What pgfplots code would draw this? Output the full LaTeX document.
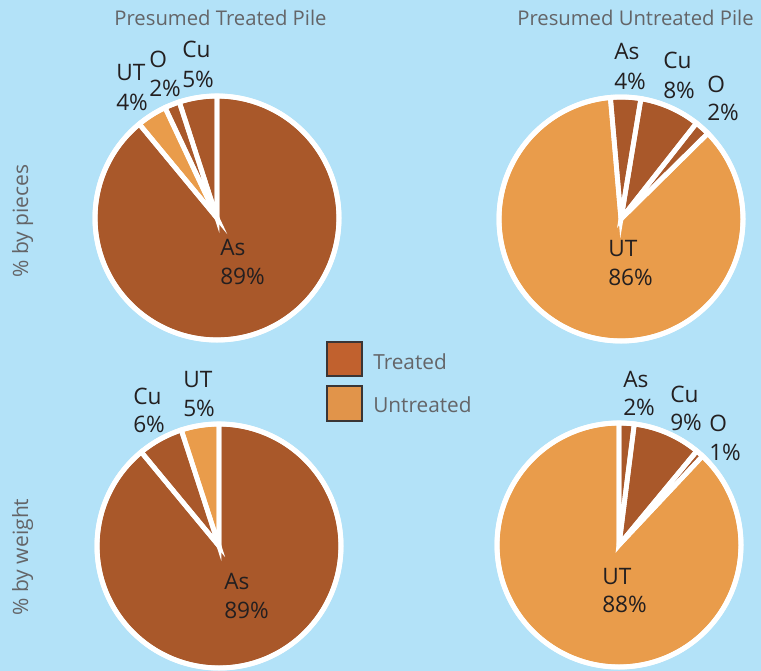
\documentclass[border=0pt]{standalone}
\usepackage{pgfplots}
\pgfplotsset{compat=1.18}
\usepackage{fontspec}
\setmainfont{Open Sans}

\definecolor{bgblue}{HTML}{B3E2F8}
\definecolor{tbrown}{HTML}{A9582A}
\definecolor{uorange}{HTML}{E99C4B}
\definecolor{legbrown}{HTML}{C1612E}
\definecolor{legorange}{HTML}{E1944A}
\definecolor{ink}{HTML}{231F20}
\definecolor{titlegray}{HTML}{646568}

% one wedge: cx, cy, start angle, direction (+1 ccw, -1 cw), from %, to %, path options
\newcommand\slice[7]{%
  \path[#7] (axis cs:#1,#2) -- ++({#3+#4*3.6*#5}:91.5pt)
    arc[start angle={#3+#4*3.6*#5}, end angle={#3+#4*3.6*#6}, radius=91.5pt] -- cycle;}
\newcommand\ring[2]{%
  \draw[white, line width=3.75pt] (axis cs:#1,#2) circle[radius=91.5pt];}
% two-line label: left x, first baseline, second baseline, line 1, line 2
\newcommand\lab[5]{%
  \node[anchor=base west, inner sep=0pt, font=\fontsize{17}{20}\selectfont, text=ink] at (axis cs:#1,#2) {#4};
  \node[anchor=base west, inner sep=0pt, font=\fontsize{17}{20}\selectfont, text=ink] at (axis cs:#1,#3) {#5};}

\tikzset{sep/.style={draw=white, line width=3.6pt}}

\begin{document}
\begin{tikzpicture}
\begin{axis}[hide axis, scale only axis, x=0.75pt, y=0.75pt,
  xmin=0, xmax=761, ymin=0, ymax=671, y dir=reverse, clip=true]
\fill[bgblue] (axis cs:0,0) rectangle (axis cs:761,671);

% Presumed treated pile, % by pieces: Cu 5, O 2, UT 4, As 89
\slice{217}{218}{90}{1}{0}{5}{fill=tbrown}
\slice{217}{218}{90}{1}{5}{7}{fill=tbrown}
\slice{217}{218}{90}{1}{7}{11}{fill=uorange}
\slice{217}{218}{90}{1}{11}{100}{fill=tbrown}
\slice{217}{218}{90}{1}{0}{5}{sep}
\slice{217}{218}{90}{1}{5}{7}{sep}
\slice{217}{218}{90}{1}{7}{11}{sep}
\slice{217}{218}{90}{1}{11}{100}{sep}
\ring{217}{218}

% Presumed untreated pile, % by pieces: As 4, Cu 8, O 2, UT 86
\slice{621}{219}{95}{-1}{0}{4}{fill=tbrown}
\slice{621}{219}{95}{-1}{4}{12}{fill=tbrown}
\slice{621}{219}{95}{-1}{12}{14}{fill=tbrown}
\slice{621}{219}{95}{-1}{14}{100}{fill=uorange}
\slice{621}{219}{95}{-1}{0}{4}{sep}
\slice{621}{219}{95}{-1}{4}{12}{sep}
\slice{621}{219}{95}{-1}{12}{14}{sep}
\slice{621}{219}{95}{-1}{14}{100}{sep}
\ring{621}{219}

% Presumed treated pile, % by weight: UT 5, Cu 6, As 89
\slice{219}{546}{90}{1}{0}{5}{fill=uorange}
\slice{219}{546}{90}{1}{5}{11}{fill=tbrown}
\slice{219}{546}{90}{1}{11}{100}{fill=tbrown}
\slice{219}{546}{90}{1}{0}{5}{sep}
\slice{219}{546}{90}{1}{5}{11}{sep}
\slice{219}{546}{90}{1}{11}{100}{sep}
\ring{219}{546}

% Presumed untreated pile, % by weight: As 2, Cu 9, O 1, UT 88
\slice{619}{545}{90}{-1}{0}{2}{fill=tbrown}
\slice{619}{545}{90}{-1}{2}{11}{fill=tbrown}
\slice{619}{545}{90}{-1}{11}{12}{fill=tbrown}
\slice{619}{545}{90}{-1}{12}{100}{fill=uorange}
\slice{619}{545}{90}{-1}{0}{2}{sep}
\slice{619}{545}{90}{-1}{2}{11}{sep}
\slice{619}{545}{90}{-1}{11}{12}{sep}
\slice{619}{545}{90}{-1}{12}{100}{sep}
\ring{619}{545}

% slice labels
\lab{182}{57}{87}{Cu}{5\%}
\lab{149}{67}{96}{O}{2\%}
\lab{116}{80}{110}{UT}{4\%}
\lab{220}{255}{284}{As}{89\%}
\lab{614}{60}{89}{As}{4\%}
\lab{663}{68}{98}{Cu}{8\%}
\lab{707}{92}{120}{O}{2\%}
\lab{608}{256}{285}{UT}{86\%}
\lab{133}{404}{432}{Cu}{6\%}
\lab{183}{387}{416}{UT}{5\%}
\lab{224}{589}{618}{As}{89\%}
\lab{623}{387}{415}{As}{2\%}
\lab{670}{402}{430}{Cu}{9\%}
\lab{709}{431}{460}{O}{1\%}
\lab{602}{584}{612}{UT}{88\%}

% column titles and row labels
\node[anchor=base, inner sep=0pt, font=\fontsize{15.2}{18}\selectfont, text=titlegray] at (axis cs:220.5,26) {Presumed Treated Pile};
\node[anchor=base, inner sep=0pt, font=\fontsize{15.2}{18}\selectfont, text=titlegray] at (axis cs:635.5,26) {Presumed Untreated Pile};
\node[anchor=base, rotate=90, inner sep=0pt, font=\fontsize{15.8}{18}\selectfont, text=titlegray] at (axis cs:28,221) {\% by pieces};
\node[anchor=base, rotate=90, inner sep=0pt, font=\fontsize{15.8}{18}\selectfont, text=titlegray] at (axis cs:28,557) {\% by weight};

% legend
\filldraw[fill=legbrown, draw=ink!90, line width=1.1pt] (axis cs:327,342) rectangle (axis cs:362,376);
\filldraw[fill=legorange, draw=ink!90, line width=1.1pt] (axis cs:327,386) rectangle (axis cs:362,421);
\node[anchor=base west, inner sep=0pt, font=\fontsize{15.6}{18}\selectfont, text=titlegray] at (axis cs:373,369) {Treated};
\node[anchor=base west, inner sep=0pt, font=\fontsize{15.6}{18}\selectfont, text=titlegray] at (axis cs:373,412) {Untreated};
\end{axis}
\pgfresetboundingbox
\useasboundingbox (current axis.south west) rectangle (current axis.north east);
\end{tikzpicture}
\end{document}
